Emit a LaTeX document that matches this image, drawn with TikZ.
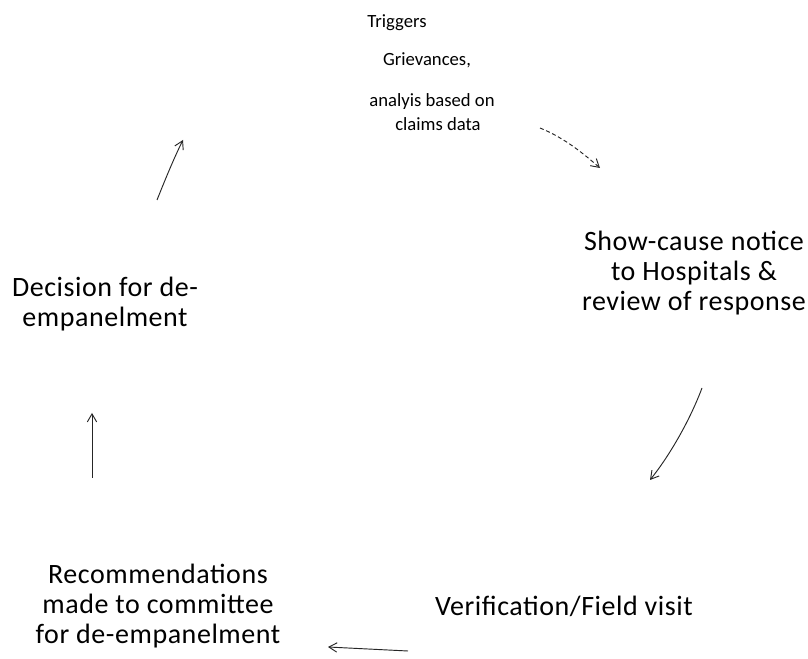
\documentclass[tikz,border=0pt]{standalone}
\usepackage{fontspec}
\setmainfont{Carlito}
\newfontfamily\lblfont[LetterSpace=2]{Carlito}
\usetikzlibrary{arrows.meta}
\begin{document}
\begin{tikzpicture}[x=0.75pt,y=-0.75pt,
  lbl/.style={align=center,anchor=base,inner sep=0pt,font=\lblfont\fontsize{21}{22.5}\selectfont},
  toplbl/.style={anchor=base,inner sep=0pt,font=\fontsize{14}{15}\selectfont},
  arr/.style={draw=black!85,line width=0.7pt,-{Straight Barb[length=6pt,width=7pt]}}]
\useasboundingbox[fill=white] (0,0) rectangle (808,659);
% labels (anchor = baseline of last line)
\node[toplbl] (trig1) at (397,28) {Triggers};
\node[toplbl] (trig2) at (427,66) {Grievances,};
\node[toplbl] (trig3) at (432,107) {analyis based on};
\node[toplbl] (trig4) at (438,131) {claims data};
\node[lbl] (show) at (694,311) {Show-cause notice\\to Hospitals \&\\review of response};
\node[lbl] (veri) at (564,616) {Verification/Field visit};
\node[lbl] (reco) at (158,643) {Recommendations\\made to committee\\for de-empanelment};
\node[lbl] (deci) at (105,327) {Decision for de-\\empanelment};
% arrow end points
\coordinate (a1s) at (540,128); \coordinate (a1e) at (600,168);
\coordinate (a2s) at (702,388); \coordinate (a2e) at (650,480);
\coordinate (a3s) at (408,651); \coordinate (a3e) at (328,647);
\coordinate (a4s) at (92,478);  \coordinate (a4e) at (92,413);
\coordinate (a5s) at (157,200); \coordinate (a5e) at (183,140);
% arrows
\draw[arr,dash pattern=on 3pt off 2pt] (a1s) .. controls (565,138) and (585,155) .. (a1e);
\draw[arr] (a2s) .. controls (690,420) and (670,455) .. (a2e);
\draw[arr] (a3s) -- (a3e);
\draw[arr] (a4s) -- (a4e);
\draw[arr] (a5s) .. controls (165,180) and (174,158) .. (a5e);
\end{tikzpicture}
\end{document}
